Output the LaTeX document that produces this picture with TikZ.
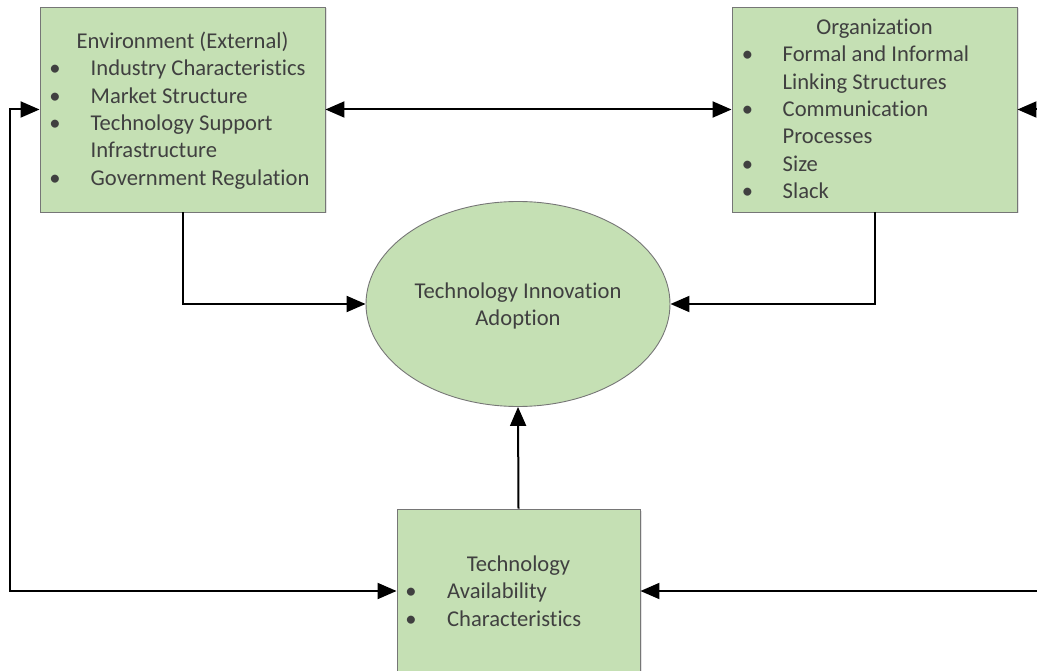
\documentclass[tikz,border=0pt]{standalone}
\usepackage{fontspec}
\setmainfont{Carlito}[Ligatures=NoCommon]
\usetikzlibrary{shapes.geometric,arrows.meta,shadows}
\definecolor{boxfill}{HTML}{C5E0B4}
\definecolor{boxline}{HTML}{767676}
\definecolor{ink}{HTML}{404040}
\newcommand{\labelfont}{\fontsize{22.6}{27}\selectfont}
\begin{document}
\begin{tikzpicture}[x=1pt,y=-1pt,
  factor/.style={draw=boxline, line width=0.9pt, fill=boxfill, inner sep=0pt,
    drop shadow={shadow xshift=1.5pt, shadow yshift=-1.5pt, opacity=0.22}},
  core/.style={ellipse, draw=boxline, line width=0.9pt, fill=boxfill, inner sep=0pt},
  txt/.style={anchor=base west, inner sep=0pt, text=ink, font=\labelfont},
  ttl/.style={anchor=base, inner sep=0pt, text=ink, font=\labelfont},
  dot/.style={anchor=base, inner sep=0pt, text=ink, font=\labelfont},
  tip/.tip={Triangle[length=19pt,width=16pt]},
  link/.style={line width=2pt, -tip},
  both/.style={line width=2pt, tip-tip}]
\clip (0,0) rectangle (1037,671);

% the three context boxes and the central ellipse
\node[factor, minimum width=285pt, minimum height=205pt] (env) at (182.5,109.5) {};
\node[factor, minimum width=285pt, minimum height=205pt] (org) at (874.5,109.5) {};
\node[factor, minimum width=243pt, minimum height=164pt] (tech) at (518.5,591) {};
\node[core, minimum width=304pt, minimum height=205pt] (tia) at (518,304) {};

% Environment text
\node[ttl] (envT) at (182.5,49) {Environment (External)};
\node[dot] (envB1) at (55,76) {\textbullet};
\node[txt] (envL1) at (90.5,76) {Industry Characteristics};
\node[dot] (envB2) at (55,103.3) {\textbullet};
\node[txt] (envL2) at (90.5,103.3) {Market Structure};
\node[dot] (envB3) at (55,130.6) {\textbullet};
\node[txt] (envL3) at (90.5,130.6) {Technology Support};
\node[txt] (envL4) at (90.5,157.9) {Infrastructure};
\node[dot] (envB5) at (55,185.2) {\textbullet};
\node[txt] (envL5) at (90.5,185.2) {Government Regulation};

% Organization text
\node[ttl] (orgT) at (874.5,34.5) {Organization};
\node[dot] (orgB1) at (747.5,62) {\textbullet};
\node[txt] (orgL1) at (782.5,62) {Formal and Informal};
\node[txt] (orgL2) at (782.5,89.3) {Linking Structures};
\node[dot] (orgB3) at (747.5,116.6) {\textbullet};
\node[txt] (orgL3) at (782.5,116.6) {Communication};
\node[txt] (orgL4) at (782.5,143.9) {Processes};
\node[dot] (orgB5) at (747.5,171.2) {\textbullet};
\node[txt] (orgL5) at (782.5,171.2) {Size};
\node[dot] (orgB6) at (747.5,198.5) {\textbullet};
\node[txt] (orgL6) at (782.5,198.5) {Slack};

% Technology text
\node[ttl] (techT) at (518.5,571) {Technology};
\node[dot] (techB1) at (411,598.5) {\textbullet};
\node[txt] (techL1) at (447,598.5) {Availability};
\node[dot] (techB2) at (411,626) {\textbullet};
\node[txt] (techL2) at (447,626) {Characteristics};

% central label
\node[ttl] (tiaL1) at (518,298.5) {Technology Innovation};
\node[ttl] (tiaL2) at (518,326) {Adoption};

% connectors
\coordinate (lft) at (10,0);
\coordinate (rgt) at (1070,0);
\draw[both] (env.east) -- (org.west);
\draw[link] (env.south) |- (tia.west);
\draw[link] (org.south) |- (tia.east);
\draw[link] (tech.north) -- (tia.south);
\draw[both] (env.west) -- (env.west -| lft) |- (tech.west);
\draw[both] (org.east) -- (org.east -| rgt) |- (tech.east);
\end{tikzpicture}
\end{document}
